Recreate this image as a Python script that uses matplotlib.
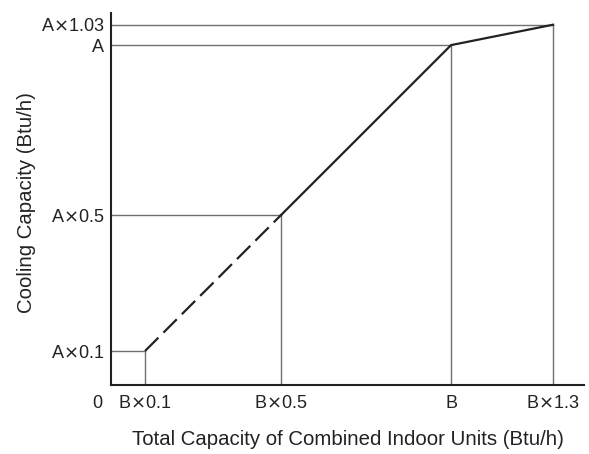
import matplotlib.pyplot as plt

plt.rcParams['font.family'] = ['Liberation Sans', 'DejaVu Sans']
plt.rcParams['mathtext.fontset'] = 'dejavusans'

# schematic points (capacity ratio of indoor units vs cooling capacity ratio)
x_puntos = [0.1, 0.5, 1.0, 1.3]
y_puntos = [0.1, 0.5, 1.0, 1.06]
x_etiquetas = ['B$\\times$0.1', 'B$\\times$0.5', 'B', 'B$\\times$1.3']
y_etiquetas = ['A$\\times$0.1', 'A$\\times$0.5', 'A', 'A$\\times$1.03']

fig = plt.figure(figsize=(5.89, 4.54), dpi=100)
ax = fig.add_axes([0.1885, 0.152, 0.803, 0.819])

# lineas guia grises
for xp, yp in zip(x_puntos, y_puntos):
    ax.plot([0, xp], [yp, yp], color='#707070', lw=1.0)
    ax.plot([xp, xp], [0, yp], color='#707070', lw=1.0)

# tramo discontinuo y tramo continuo
ax.plot(x_puntos[:2], y_puntos[:2], color='#222222', lw=1.6, dashes=(8.5, 3.2))
ax.plot(x_puntos[1:], y_puntos[1:], color='#222222', lw=1.6)

ax.set_xlim(0, 1.391)
ax.set_ylim(0, 1.094)
ax.spines['top'].set_visible(False)
ax.spines['right'].set_visible(False)
ax.spines['left'].set_linewidth(1.5)
ax.spines['bottom'].set_linewidth(1.5)
ax.spines['left'].set_color('#222222')
ax.spines['bottom'].set_color('#222222')

ax.set_xticks(x_puntos)
ax.set_xticklabels(x_etiquetas)
ax.set_yticks(y_puntos)
ax.set_yticklabels(y_etiquetas)
ax.tick_params(length=0, labelsize=13, colors='#222222', pad=7)
ax.tick_params(axis='y', pad=5)
ax.text(-0.04, -0.03, '0', ha='center', va='top', fontsize=13, color='#222222')

ax.set_xlabel('Total Capacity of Combined Indoor Units (Btu/h)', fontsize=14.7,
              color='#222222', labelpad=13)
ax.set_ylabel('Cooling Capacity (Btu/h)', fontsize=14.7, color='#222222')
ax.yaxis.set_label_coords(-0.158, 0.49)

fig.savefig('out.png', dpi=100)
